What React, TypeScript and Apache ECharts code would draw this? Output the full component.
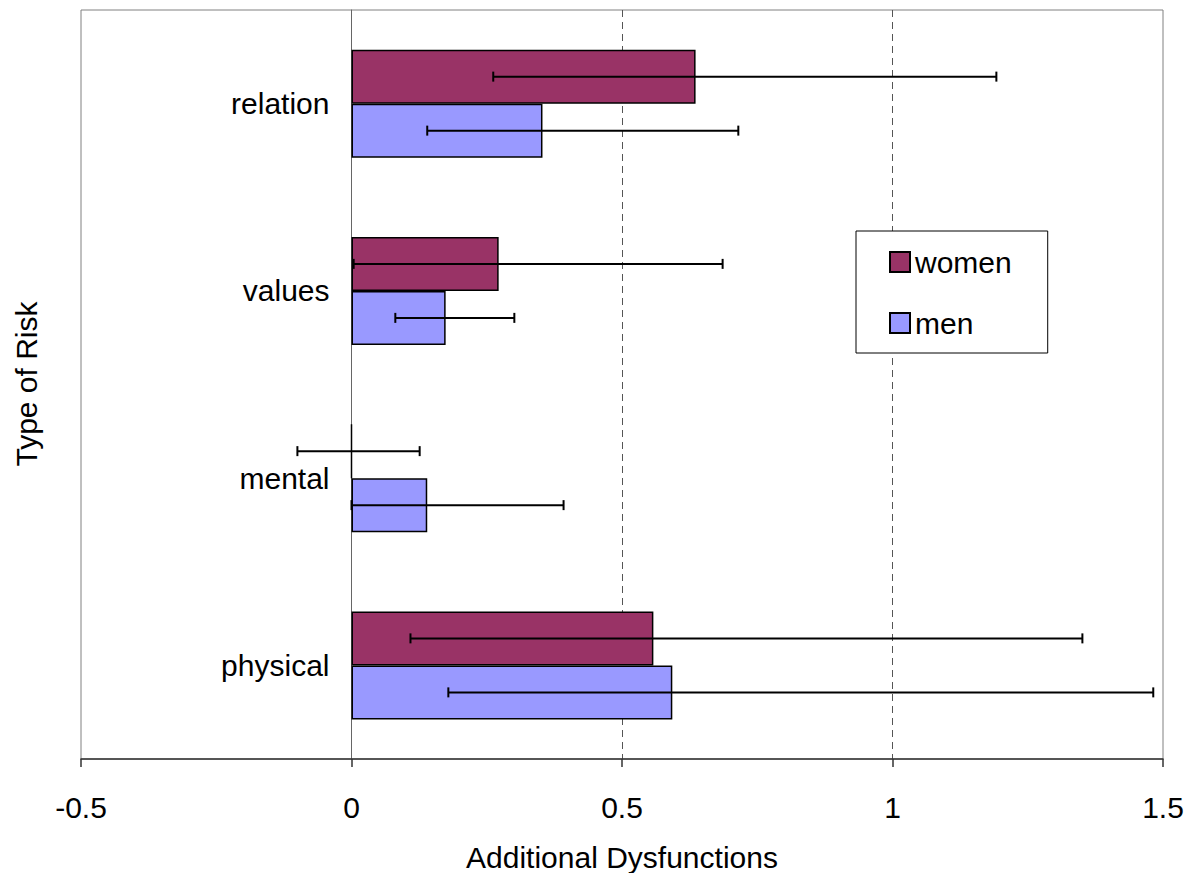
import React, { useEffect, useRef } from "react";
import * as echarts from "echarts";

const categories = ["relation", "values", "mental", "physical"];
const women = [0.636, 0.272, 0, 0.558];
const men = [0.353, 0.174, 0.14, 0.593];
const womenLow = [0.262, 0.004, -0.1, 0.109];
const womenHigh = [1.192, 0.686, 0.126, 1.351];
const menLow = [0.14, 0.081, 0.0, 0.179];
const menHigh = [0.715, 0.301, 0.392, 1.482];
const xTicks = { min: -0.5, max: 1.5, interval: 0.5 };

const FONT = 'Arial, "Liberation Sans", Helvetica, sans-serif';
const FS = 30;
const BAR_W = 54;
const GRID = { left: 81, right: 26, top: 10, bottom: 114 };
const CHART_W = 1189;

function errorSeries(name: string, low: number[], high: number[], offset: number) {
  return {
    type: "custom",
    name,
    z: 5,
    data: low.map((l, i) => [i, l, high[i]]),
    renderItem: (params: any, api: any) => {
      const idx = api.value(0);
      const a = api.coord([api.value(1), idx]);
      const b = api.coord([api.value(2), idx]);
      const y = a[1] + offset;
      const cap = 5;
      const style = { stroke: "#000", lineWidth: 2 };
      return {
        type: "group",
        children: [
          { type: "line", shape: { x1: a[0], y1: y, x2: b[0], y2: y }, style },
          { type: "line", shape: { x1: a[0], y1: y - cap, x2: a[0], y2: y + cap }, style },
          { type: "line", shape: { x1: b[0], y1: y - cap, x2: b[0], y2: y + cap }, style },
        ],
      };
    },
  };
}

export default function App() {
  const ref = useRef<HTMLDivElement>(null);
  useEffect(() => {
    if (!ref.current) return;
    const chart = echarts.init(ref.current, null, { renderer: "svg" });
    const plotW = CHART_W - GRID.left - GRID.right;
    const zeroOffset = (plotW * (0 - xTicks.min)) / (xTicks.max - xTicks.min);
    chart.setOption({
      animation: false,
      textStyle: { fontFamily: FONT },
      grid: {
        ...GRID,
        containLabel: false,
        outerBoundsMode: "none",
        show: true,
        borderColor: "#808080",
        borderWidth: 1,
      },
      legend: {
        data: ["women", "men"],
        orient: "vertical",
        left: 856,
        top: 231,
        itemWidth: 20,
        itemHeight: 20,
        itemGap: 31,
        padding: [16, 36, 15, 33],
        borderColor: "#000",
        borderWidth: 1,
        backgroundColor: "#fff",
        textStyle: { fontSize: FS, color: "#000", fontFamily: FONT },
        icon: "rect",
      },
      xAxis: {
        type: "value",
        min: xTicks.min,
        max: xTicks.max,
        interval: xTicks.interval,
        name: "Additional Dysfunctions",
        nameLocation: "middle",
        nameGap: 83,
        nameTextStyle: { fontSize: FS, color: "#000", fontFamily: FONT },
        axisLine: { show: true, onZero: false, lineStyle: { color: "#333", width: 1.5 } },
        axisTick: { show: true, inside: false, length: 8, lineStyle: { color: "#333", width: 1.5 } },
        axisLabel: {
          fontSize: FS,
          color: "#000",
          margin: 33,
          fontFamily: FONT,
          formatter: (v: number) => String(v),
        },
        splitLine: {
          show: true,
          showMinLine: false,
          showMaxLine: false,
          lineStyle: { color: "#555", type: [7, 5], width: 1 },
        },
      },
      yAxis: {
        type: "category",
        data: categories,
        inverse: true,
        offset: -zeroOffset,
        axisLine: { show: true, onZero: false, lineStyle: { color: "#666", width: 1 } },
        axisTick: { show: false },
        axisLabel: { fontSize: FS, color: "#000", margin: 22, fontFamily: FONT },
        splitLine: { show: false },
      },
      graphic: [
        {
          type: "text",
          x: 26,
          y: 384,
          rotation: Math.PI / 2,
          style: {
            text: "Type of Risk",
            fontSize: FS,
            fill: "#000",
            fontFamily: FONT,
            textAlign: "center",
            textVerticalAlign: "middle",
          },
        },
      ],
      series: [
        {
          type: "bar",
          name: "women",
          data: women,
          barWidth: BAR_W,
          barGap: "0%",
          itemStyle: { color: "#993366", borderColor: "#000", borderWidth: 1.5 },
        },
        {
          type: "bar",
          name: "men",
          data: men,
          barWidth: BAR_W,
          barGap: "0%",
          itemStyle: { color: "#9999FF", borderColor: "#000", borderWidth: 1.5 },
        },
        errorSeries("womenErr", womenLow, womenHigh, -BAR_W / 2),
        errorSeries("menErr", menLow, menHigh, BAR_W / 2),
      ],
    });
    return () => chart.dispose();
  }, []);
  return <div ref={ref} style={{ width: 1189, height: 873, position: "absolute", left: 0, top: 0 }} />;
}
